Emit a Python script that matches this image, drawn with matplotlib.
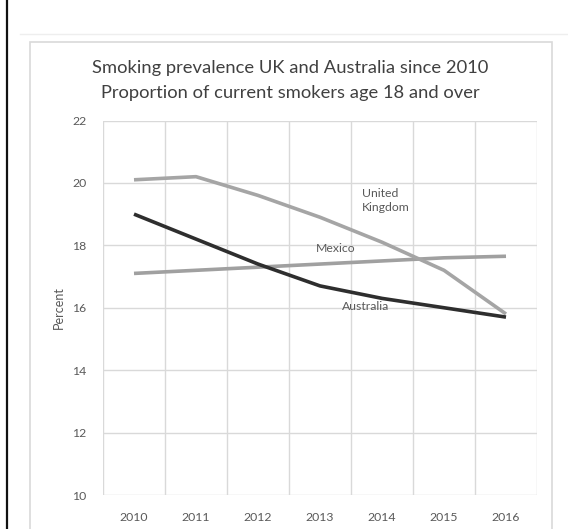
import matplotlib
matplotlib.use("Agg")
import matplotlib.pyplot as plt
from matplotlib.patches import Rectangle
from matplotlib.lines import Line2D

# data
years = [2010, 2011, 2012, 2013, 2014, 2015, 2016]
uk = [20.1, 20.2, 19.6, 18.9, 18.1, 17.2, 15.8]
australia = [19.0, 18.2, 17.4, 16.7, 16.3, 16.0, 15.7]
mexico = [17.1, 17.2, 17.3, 17.4, 17.5, 17.6, 17.65]
yticks = [10, 12, 14, 16, 18, 20, 22]

plt.rcParams['font.family'] = ['Lato', 'DejaVu Sans']

W, H = 568, 529
fig = plt.figure(figsize=(W / 100, H / 100), dpi=100)

# outer decorations: black left rule, faint top line, chart frame
fig.add_artist(Line2D([7 / W, 7 / W], [0, 1], color="#111111", lw=1.6))
fig.add_artist(Line2D([20 / W, 1], [1 - 34 / H, 1 - 34 / H], color="#eeeeee", lw=1))
fig.add_artist(Rectangle((30 / W, -0.05), 522 / W, 1 - 42 / H + 0.05,
                         fill=False, edgecolor="#d9d9d9", lw=1.2))

ax = fig.add_axes([103 / W, 1 - 495 / H, 434 / W, 374.5 / H])

grid_c = "#d9d9d9"
for y in yticks:
    ax.axhline(y, color=grid_c, lw=1, zorder=0)
for i in range(len(years) + 1):
    ax.axvline(years[0] - 0.5 + i, color=grid_c, lw=1, zorder=0)

ax.plot(years, uk, color="#a5a5a5", lw=2.6, solid_capstyle="butt", zorder=3)
ax.plot(years, mexico, color="#a0a0a0", lw=2.6, solid_capstyle="butt", zorder=2)
ax.plot(years, australia, color="#2e2e2e", lw=2.6, solid_capstyle="butt", zorder=4)

lab_c = "#595959"
ax.text(2013.67, 19.45, "United\nKingdom", color=lab_c, fontsize=8.8, ha="left",
        va="center", linespacing=1.35)
ax.text(2012.93, 17.9, "Mexico", color=lab_c, fontsize=8.8, ha="left", va="center")
ax.text(2013.35, 16.05, "Australia", color=lab_c, fontsize=8.8, ha="left", va="center")

ax.set_xlim(years[0] - 0.5, years[-1] + 0.5)
ax.set_ylim(10, 22)
ax.set_xticks(years)
ax.set_yticks(yticks)
ax.tick_params(length=0, colors=lab_c, labelsize=8.8)
ax.tick_params(axis="x", pad=12)
ax.tick_params(axis="y", pad=12)
for s in ax.spines.values():
    s.set_visible(False)
ax.set_ylabel("Percent", color=lab_c, fontsize=9, labelpad=5)

fig.text(290 / W, 1 - 68 / H, "Smoking prevalence UK and Australia since 2010",
         ha="center", va="center", fontsize=13.2, color="#404040")
fig.text(290 / W, 1 - 93 / H, "Proportion of current smokers age 18 and over",
         ha="center", va="center", fontsize=13.2, color="#404040")

fig.savefig("out.png", dpi=100)
